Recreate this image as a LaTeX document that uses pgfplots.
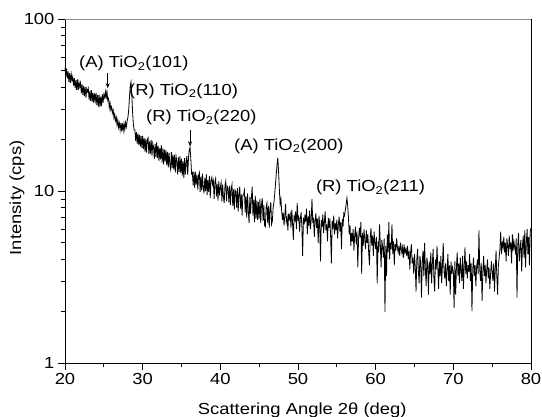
\documentclass[border=0pt]{standalone}
\usepackage{pgfplots}
\pgfplotsset{compat=1.18}
\usepackage{pgfplotstable}
\usepackage{fontspec}
\setmainfont{Liberation Sans}[FakeStretch=1.15]
\usetikzlibrary{arrows.meta}
\pgfplotstableread[row sep=\\]{
y\\
52.0\\ 47.0\\ 51.5\\ 45.2\\ 49.6\\ 43.0\\ 48.4\\ 42.6\\ 47.8\\ 44.0\\
46.2\\ 41.0\\ 45.3\\ 39.6\\ 44.1\\ 38.8\\ 44.5\\ 38.5\\ 42.9\\ 40.3\\
42.4\\ 37.0\\ 41.6\\ 36.1\\ 40.8\\ 35.6\\ 40.2\\ 34.8\\ 39.3\\ 37.8\\
39.4\\ 34.0\\ 38.2\\ 33.4\\ 38.6\\ 33.1\\ 37.3\\ 32.4\\ 36.9\\ 33.5\\
37.2\\ 31.6\\ 36.1\\ 31.0\\ 36.3\\ 30.7\\ 35.4\\ 31.2\\ 36.6\\ 32.5\\
36.4\\ 35.0\\ 37.8\\ 34.2\\ 38.6\\ 33.6\\ 34.5\\ 30.4\\ 32.6\\ 29.6\\
30.8\\ 28.4\\ 29.6\\ 26.6\\ 28.0\\ 25.6\\ 26.8\\ 24.2\\ 25.9\\ 23.4\\
24.8\\ 22.6\\ 24.9\\ 22.2\\ 24.8\\ 22.5\\ 24.6\\ 22.7\\ 25.0\\ 23.6\\
25.5\\ 26.8\\ 29.5\\ 35.0\\ 41.0\\ 43.0\\ 36.5\\ 29.0\\ 24.5\\ 22.6\\
22.6\\ 19.6\\ 22.0\\ 18.8\\ 21.6\\ 18.5\\ 21.2\\ 18.1\\ 20.9\\ 17.8\\
20.9\\ 17.6\\ 20.3\\ 16.9\\ 20.1\\ 16.7\\ 19.9\\ 20.4\\ 16.4\\ 19.4\\
16.5\\ 19.8\\ 16.0\\ 18.9\\ 17.9\\ 15.4\\ 18.8\\ 15.8\\ 19.2\\ 15.6\\
18.3\\ 14.9\\ 17.8\\ 15.3\\ 18.5\\ 14.6\\ 17.7\\ 14.3\\ 17.4\\ 14.8\\
17.3\\ 14.1\\ 16.9\\ 13.7\\ 16.7\\ 14.3\\ 13.4\\ 16.8\\ 13.6\\ 16.3\\
13.3\\ 16.2\\ 12.8\\ 15.9\\ 14.9\\ 12.5\\ 15.7\\ 12.9\\ 16.0\\ 12.7\\
15.4\\ 12.3\\ 14.9\\ 11.9\\ 15.5\\ 12.5\\ 14.7\\ 16.0\\ 12.4\\ 15.6\\
17.3\\ 18.0\\ 15.3\\ 12.6\\ 12.8\\ 10.8\\ 13.0\\ 10.4\\ 12.9\\ 10.9\\
12.4\\ 10.2\\ 12.3\\ 12.8\\ 9.9\\ 12.1\\ 10.1\\ 12.6\\ 10.4\\ 9.7\\
11.9\\ 10.0\\ 12.5\\ 9.5\\ 11.6\\ 9.9\\ 12.2\\ 9.1\\ 11.5\\ 12.0\\
10.9\\ 11.5\\ 9.0\\ 11.2\\ 11.8\\ 9.3\\ 11.0\\ 8.8\\ 11.4\\ 9.4\\
10.5\\ 11.2\\ 8.7\\ 10.9\\ 9.2\\ 8.5\\ 10.8\\ 11.4\\ 8.7\\ 10.6\\
10.4\\ 8.6\\ 10.7\\ 8.3\\ 10.3\\ 10.9\\ 8.2\\ 10.2\\ 7.8\\ 10.1\\
9.9\\ 8.0\\ 10.4\\ 7.6\\ 9.7\\ 10.6\\ 7.9\\ 9.6\\ 7.2\\ 9.4\\
9.5\\ 10.1\\ 7.5\\ 9.3\\ 7.0\\ 9.7\\ 7.7\\ 6.5\\ 9.2\\ 7.4\\
9.2\\ 10.6\\ 7.2\\ 8.9\\ 6.6\\ 9.4\\ 6.9\\ 8.8\\ 6.8\\ 8.6\\
6.9\\ 9.0\\ 6.5\\ 8.4\\ 9.1\\ 6.7\\ 8.3\\ 6.3\\ 6.2\\ 8.1\\
8.5\\ 6.5\\ 8.2\\ 6.1\\ 7.9\\ 8.6\\ 6.4\\ 6.7\\ 8.0\\ 8.6\\
9.6\\ 11.0\\ 12.5\\ 14.2\\ 15.6\\ 13.0\\ 10.2\\ 8.4\\ 9.0\\ 7.6\\
6.8\\ 7.5\\ 6.3\\ 7.2\\ 8.4\\ 6.6\\ 7.0\\ 5.9\\ 7.4\\ 6.9\\
7.3\\ 6.1\\ 7.8\\ 6.5\\ 5.2\\ 7.1\\ 6.8\\ 7.6\\ 6.0\\ 8.5\\
6.7\\ 7.2\\ 5.8\\ 6.9\\ 7.5\\ 6.2\\ 4.2\\ 7.0\\ 6.4\\ 7.3\\
6.6\\ 7.9\\ 5.6\\ 7.1\\ 6.3\\ 7.7\\ 6.0\\ 6.8\\ 9.0\\ 6.5\\
7.0\\ 5.4\\ 6.7\\ 7.4\\ 6.1\\ 6.9\\ 5.0\\ 7.2\\ 6.3\\ 3.9\\
6.8\\ 6.2\\ 7.3\\ 5.7\\ 6.6\\ 7.6\\ 5.9\\ 6.4\\ 5.1\\ 7.0\\
6.1\\ 6.9\\ 5.5\\ 3.8\\ 6.7\\ 6.0\\ 7.2\\ 5.6\\ 6.5\\ 5.9\\
6.8\\ 5.3\\ 6.4\\ 7.1\\ 5.8\\ 6.6\\ 4.6\\ 6.9\\ 6.2\\ 7.4\\
7.2\\ 7.8\\ 8.4\\ 9.1\\ 8.2\\ 7.0\\ 5.6\\ 6.3\\ 4.8\\ 5.7\\
5.1\\ 6.0\\ 4.5\\ 5.5\\ 6.2\\ 4.9\\ 5.8\\ 3.6\\ 5.3\\ 6.1\\
5.4\\ 6.6\\ 3.3\\ 5.7\\ 4.8\\ 6.0\\ 5.2\\ 4.6\\ 5.9\\ 5.0\\
5.6\\ 4.4\\ 3.7\\ 5.3\\ 6.1\\ 4.8\\ 5.5\\ 4.2\\ 5.8\\ 5.0\\
4.6\\ 5.4\\ 2.9\\ 5.1\\ 4.4\\ 6.4\\ 4.9\\ 3.6\\ 5.2\\ 4.7\\
4.1\\ 5.3\\ 1.98\\ 4.8\\ 3.2\\ 5.6\\ 4.4\\ 6.6\\ 4.0\\ 5.0\\
4.6\\ 6.4\\ 4.3\\ 5.1\\ 3.7\\ 4.9\\ 4.5\\ 5.3\\ 4.7\\ 4.4\\
4.8\\ 4.2\\ 5.0\\ 4.6\\ 4.3\\ 4.9\\ 4.1\\ 4.7\\ 4.4\\ 4.6\\
4.2\\ 4.8\\ 4.0\\ 4.5\\ 3.5\\ 4.4\\ 4.9\\ 3.8\\ 4.1\\ 3.3\\
4.3\\ 3.6\\ 2.6\\ 4.0\\ 4.6\\ 3.4\\ 2.9\\ 4.2\\ 3.8\\ 2.4\\
3.9\\ 4.5\\ 3.2\\ 5.0\\ 3.5\\ 2.8\\ 4.1\\ 3.7\\ 2.5\\ 3.9\\
3.3\\ 4.4\\ 2.9\\ 3.8\\ 4.6\\ 3.1\\ 2.6\\ 4.0\\ 3.5\\ 4.8\\
3.6\\ 2.7\\ 3.9\\ 3.2\\ 4.2\\ 2.9\\ 3.7\\ 5.0\\ 3.4\\ 3.1\\
3.8\\ 2.8\\ 3.5\\ 4.3\\ 3.0\\ 3.7\\ 2.5\\ 3.9\\ 3.3\\ 3.6\\
3.4\\ 2.1\\ 3.9\\ 2.5\\ 3.6\\ 4.4\\ 3.2\\ 3.8\\ 2.9\\ 4.1\\
3.5\\ 3.0\\ 4.2\\ 2.7\\ 3.6\\ 4.7\\ 3.3\\ 3.9\\ 3.1\\ 3.7\\
3.4\\ 4.3\\ 3.0\\ 3.8\\ 2.0\\ 3.5\\ 4.1\\ 3.2\\ 3.7\\ 2.8\\
3.6\\ 4.0\\ 3.3\\ 5.9\\ 3.5\\ 3.0\\ 3.8\\ 2.3\\ 3.4\\ 4.2\\
3.2\\ 3.7\\ 2.9\\ 3.5\\ 4.0\\ 3.1\\ 3.6\\ 2.7\\ 3.3\\ 3.9\\
3.4\\ 3.0\\ 3.8\\ 2.6\\ 3.5\\ 4.5\\ 3.2\\ 2.5\\ 3.7\\ 4.1\\
4.6\\ 5.8\\ 4.3\\ 5.1\\ 4.7\\ 5.4\\ 4.4\\ 5.0\\ 3.9\\ 5.3\\
4.8\\ 4.2\\ 5.5\\ 4.6\\ 5.0\\ 3.8\\ 5.6\\ 4.5\\ 5.1\\ 4.7\\
4.4\\ 5.3\\ 2.4\\ 4.9\\ 5.7\\ 3.9\\ 4.6\\ 5.2\\ 3.4\\ 4.8\\
5.5\\ 4.1\\ 5.9\\ 3.6\\ 5.0\\ 6.0\\ 4.3\\ 5.4\\ 3.7\\ 5.8\\
6.1\\
}\xrd
\begin{document}
\begin{tikzpicture}
\begin{axis}[
  scale only axis, width=466pt, height=344pt,
  xmin=20, xmax=80, ymin=1, ymax=100, ymode=log,
  xtick={20,30,...,80}, minor xtick={25,35,...,75},
  ytick={1,10,100}, yticklabels={1,10,100},
  minor ytick={2,3,4,5,6,7,8,9,20,30,40,50,60,70,80,90},
  xtick pos=bottom, ytick pos=left, tick align=outside,
  major tick length=7pt, minor tick length=4pt,
  every tick/.style={black, line width=0.7pt},
  axis line style={line width=0.8pt},
  /pgf/number format/assume math mode=true,
  ticklabel style={font=\fontsize{16}{18}\selectfont},
  xlabel={Scattering Angle 2θ (deg)},
  ylabel={Intensity (cps)},
  every axis x label/.style={at={(axis description cs:0.509,0)}, anchor=base, yshift=-52pt, font=\fontsize{16}{18}\selectfont},
  every axis y label/.style={at={(axis description cs:-0.103,0.48)}, rotate=90, anchor=center, font=\fontsize{16}{18}\selectfont},
  clip=false,
]
\addplot[black, line width=0.8pt] table[x expr=20+0.1*\coordindex, y=y] {\xrd};
\draw[gray!90, line width=0.9pt] (rel axis cs:0,1) -- (rel axis cs:1,1);
\begin{scope}[every node/.style={font=\fontsize{16}{18}\selectfont, inner sep=0pt}]
\node[anchor=base west] at (axis cs:21.8,51.9) {(A) TiO\textsubscript{2}(101)};
\node[anchor=base west] at (axis cs:28.24,36.1) {(R) TiO\textsubscript{2}(110)};
\node[anchor=base west] at (axis cs:30.43,25.2) {(R) TiO\textsubscript{2}(220)};
\node[anchor=base west] at (axis cs:41.76,17.3) {(A) TiO\textsubscript{2}(200)};
\node[anchor=base west] at (axis cs:52.3,9.87) {(R) TiO\textsubscript{2}(211)};
\end{scope}
\draw[-{Stealth[length=5pt,width=4pt]}, line width=0.6pt] (axis cs:25.5,48.5) -- (axis cs:25.5,39.6);
\draw[-{Stealth[length=5pt,width=4pt]}, line width=0.6pt] (axis cs:36.1,22.7) -- (axis cs:36.1,18.2);
\end{axis}
\pgfresetboundingbox
\path (-65pt,-54pt) rectangle (477pt,363pt);
\end{tikzpicture}
\end{document}
